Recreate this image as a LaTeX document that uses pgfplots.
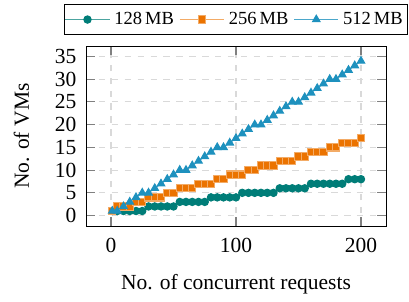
\documentclass[border=0pt]{standalone}
\usepackage{fontspec}
\setmainfont{Liberation Serif}
\usepackage{pgfplots}
\usepackage{pgfplotstable}
\pgfplotsset{compat=1.18}
\definecolor{cA}{RGB}{0,125,120}
\definecolor{cB}{RGB}{235,115,0}
\definecolor{cC}{RGB}{30,145,190}
\pgfplotstableread{
x a b c
1 1 1 1
5 1 2 1
10 1 2 2
15 1 2 3
20 1 3 4
25 1 3 5
30 2 4 5
35 2 4 6
40 2 4 7
45 2 5 8
50 2 5 9
55 3 6 10
60 3 6 10
65 3 6 11
70 3 7 12
75 3 7 13
80 4 7 14
85 4 8 15
90 4 8 15
95 4 9 16
100 4 9 17
105 5 9 18
110 5 10 19
115 5 10 20
120 5 11 20
125 5 11 21
130 5 11 22
135 6 12 23
140 6 12 24
145 6 12 25
150 6 13 25
155 6 13 26
160 7 14 27
165 7 14 28
170 7 14 29
175 7 15 30
180 7 15 30
185 7 16 31
190 8 16 32
195 8 16 33
200 8 17 34
}\data
\begin{document}
\begin{tikzpicture}
\begin{axis}[
  width=139.5pt, height=83.7pt, scale only axis,
  xmin=-20, xmax=220, ymin=-2.3, ymax=37.3,
  xtick={0,100,200}, ytick={0,5,...,35},
  /pgf/number format/assume math mode=true,
  grid=major,
  major grid style={dashed, gray!30, line width=0.5pt},
  tick style={gray, line width=0.5pt},
  xlabel={No. of concurrent requests},
  ylabel={No. of VMs},
  xlabel style={yshift=-3.5pt},
  ylabel style={yshift=5pt},
  xticklabel style={yshift=-2pt},
  yticklabel style={xshift=-1pt},
  tick label style={font=\fontsize{10}{12}\selectfont},
  label style={font=\fontsize{10}{12}\selectfont},
  legend columns=3,
  legend style={at={(0.5,1)}, anchor=south, yshift=5pt,
    font=\fontsize{8.6}{10}\selectfont, inner xsep=0pt, inner ysep=1.5pt,
    /tikz/every even column/.append style={column sep=0.5pt}},
  legend image code/.code={\draw[mark repeat=2,mark phase=2] plot coordinates {(0cm,0cm) (0.36cm,0cm) (0.72cm,0cm)};},
]
\addplot[color=cA!70, line width=0.5pt, mark=*, mark size=1.7pt, mark options={fill=cA, draw=cA}] table[x=x,y=a] {\data};
\addlegendentry{128\,MB}
\addplot[color=cB!60, line width=0.5pt, mark=square*, mark size=1.7pt, mark options={fill=cB, draw=cB!60}] table[x=x,y=b] {\data};
\addlegendentry{256\,MB}
\addplot[color=cC!80, line width=0.5pt, mark=triangle*, mark size=2pt, mark options={fill=cC, draw=cC}] table[x=x,y=c] {\data};
\addlegendentry{512\,MB}
\end{axis}
\path (current axis.south west) ++(-40pt,-30.7pt);
\path (current axis.north east) ++(10.7pt,21.4pt);
\end{tikzpicture}
\end{document}
